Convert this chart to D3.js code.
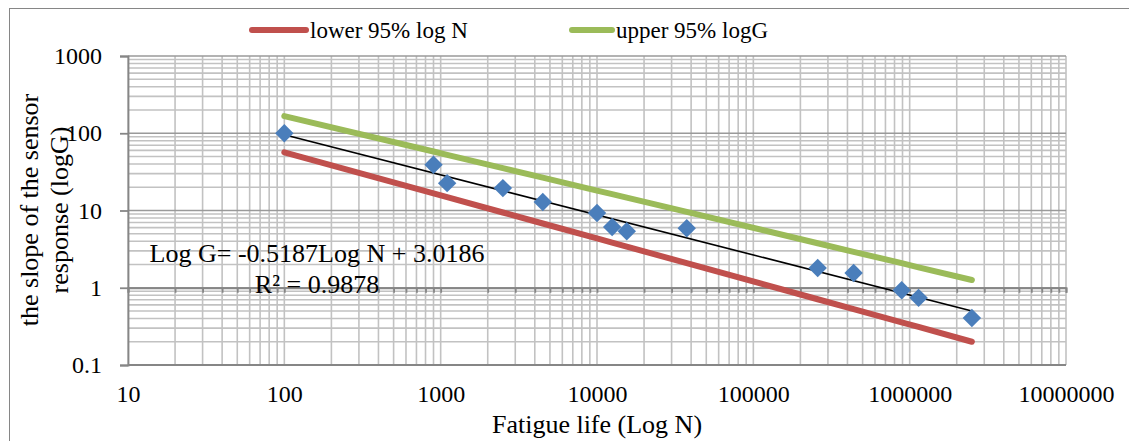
<!DOCTYPE html>
<html>
<head>
<meta charset="utf-8">
<script src="https://cdn.jsdelivr.net/npm/d3@7"></script>
<style>
  body { margin: 0; background: #fff; }
  svg { display: block; }
  text { font-family: "Liberation Serif", "Times New Roman", serif; fill: #000; }
  .grid line { stroke: #c2c2c2; stroke-width: 1.6; }
  .grid line.major { stroke: #9a9a9a; }
  .axis path, .axis line { stroke: #868686; stroke-width: 1.8; }
</style>
</head>
<body>
<svg id="chart" width="1129" height="441" font-family="Liberation Serif, serif"></svg>
<script>
const lifeN = [100, 900, 1100, 2500, 4500, 10000, 12500, 15500, 37500, 258000, 438000, 889000, 1140000, 2500000];
const slopeG = [100, 39, 22.6, 19.5, 12.9, 9.3, 6.1, 5.4, 5.9, 1.8, 1.55, 0.93, 0.74, 0.405];
// 95% bands at the same N
const upperG = [167, 58, 52.6, 35.3, 26.6, 18.1, 16.3, 14.7, 9.6, 3.77, 2.92, 2.08, 1.84, 1.26];
const lowerG = [56.6, 16.7, 14.9, 9.42, 6.79, 4.35, 3.85, 3.41, 2.08, 0.71, 0.53, 0.357, 0.311, 0.2];
// power trend line end points
const trendN = [100, 2500000];
const trendG = [95.7, 0.5];
const xTicks = [10, 100, 1000, 10000, 100000, 1000000, 10000000];
const yTicks = [0.1, 1, 10, 100, 1000];
const legendNames = ['lower 95% log N', 'upper 95% logG'];

const serif = 'Liberation Serif, serif';
const svg = d3.select('#chart');
const x = d3.scaleLog().domain([10, 1e7]).range([128, 1066]);
const y = d3.scaleLog().domain([0.1, 1000]).range([365, 56]);

// outer frame
svg.append('rect')
  .attr('x', 9.5).attr('y', 8.5).attr('width', 1130).attr('height', 440)
  .attr('fill', 'none').attr('stroke', '#868686');

// grid
const grid = svg.append('g').classed('grid', true);
grid.selectAll('line.v').data(x.ticks()).enter().append('line')
  .attr('x1', d => x(d)).attr('x2', d => x(d))
  .attr('y1', y(1000)).attr('y2', y(0.1));
grid.selectAll('line.h').data(y.ticks()).enter().append('line')
  .classed('major', d => yTicks.includes(d))
  .attr('x1', x(10)).attr('x2', x(1e7))
  .attr('y1', d => y(d)).attr('y2', d => y(d));

// bottom line of plot
svg.append('line')
  .attr('x1', x(10)).attr('x2', x(1e7))
  .attr('y1', y(0.1)).attr('y2', y(0.1))
  .attr('stroke', '#868686').attr('stroke-width', 1.8);

// horizontal axis crosses at 1, labels low
svg.append('g').classed('axis', true)
  .attr('transform', `translate(0, ${y(1)})`)
  .call(d3.axisBottom(x).tickValues(x.ticks()).tickSize(5).tickFormat(''));

svg.append('g').classed('axis', true)
  .attr('transform', `translate(0, ${y(0.1)})`)
  .call(d3.axisBottom(x).tickValues(xTicks).tickSize(0).tickPadding(20).tickFormat(d3.format('d')))
  .call(g => g.select('.domain').remove())
  .attr('font-family', serif)
  .selectAll('text').attr('font-size', 24).attr('font-family', serif);

svg.append('g').classed('axis', true)
  .attr('transform', `translate(${x(10)}, 0)`)
  .call(d3.axisLeft(y).tickValues(yTicks).tickSize(8).tickPadding(18).tickFormat(d => d < 1 ? '0.1' : d3.format('d')(d)))
  .attr('font-family', serif)
  .selectAll('text').attr('font-size', 24).attr('font-family', serif);

// axis titles
svg.append('text')
  .attr('x', 597).attr('y', 433)
  .attr('text-anchor', 'middle').attr('font-size', 26)
  .text('Fatigue life (Log N)');

const yTitle = svg.append('text')
  .attr('transform', 'translate(0, 210) rotate(-90)')
  .attr('text-anchor', 'middle').attr('font-size', 26);
yTitle.append('tspan').attr('x', 0).attr('y', 38).text('the slope of the sensor');
yTitle.append('tspan').attr('x', 0).attr('y', 68).text('response (logG)');

// series
const line = d3.line().x(d => x(d[0])).y(d => y(d[1]));
const bands = [
  { values: lowerG, color: '#c0504d' },
  { values: upperG, color: '#9bbb59' }
];
bands.forEach(({ values, color }) => {
  svg.append('path')
    .datum(lifeN.map((n, i) => [n, values[i]]))
    .attr('d', line)
    .attr('fill', 'none').attr('stroke', color)
    .attr('stroke-width', 6).attr('stroke-linecap', 'round').attr('stroke-linejoin', 'round');
});

svg.append('path')
  .datum(trendN.map((n, i) => [n, trendG[i]]))
  .attr('d', line)
  .attr('fill', 'none').attr('stroke', '#000').attr('stroke-width', 1.6);

svg.selectAll('path.pt')
  .data(lifeN.map((n, i) => [n, slopeG[i]]))
  .enter().append('path')
  .attr('d', d3.symbol(d3.symbolSquare, 170))
  .attr('transform', d => `translate(${x(d[0])}, ${y(d[1])}) rotate(45)`)
  .attr('fill', '#4a7ebb');

// trend equation
const eq = svg.append('text').attr('text-anchor', 'middle').attr('font-size', 26);
eq.append('tspan').attr('x', 317).attr('y', 262).text('Log G= -0.5187Log N + 3.0186');
eq.append('tspan').attr('x', 317).attr('y', 293).text('R² = 0.9878');

// legend
const legend = [
  { name: legendNames[0], color: '#c0504d', x1: 252, x2: 306 },
  { name: legendNames[1], color: '#9bbb59', x1: 572, x2: 612 }
];
legend.forEach(({ name, color, x1, x2 }) => {
  svg.append('line')
    .attr('x1', x1).attr('x2', x2).attr('y1', 30).attr('y2', 30)
    .attr('stroke', color).attr('stroke-width', 6).attr('stroke-linecap', 'round');
  svg.append('text')
    .attr('x', x2 + 4).attr('y', 38).attr('font-size', 23)
    .text(name);
});
</script>
</body>
</html>
